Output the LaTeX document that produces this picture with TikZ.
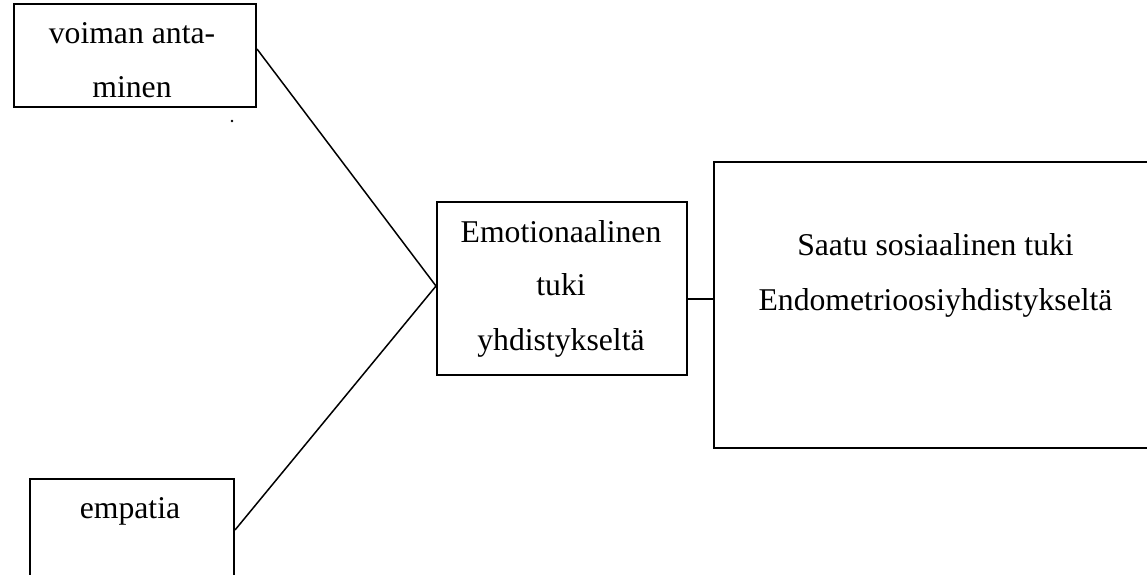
\documentclass[tikz,border=0pt]{standalone}
\usepackage{fontspec}
\setmainfont{Liberation Serif}
\begin{document}
\begin{tikzpicture}[x=1pt,y=-1pt,
  box/.style={draw=black,line width=2pt,rectangle,inner sep=0pt,anchor=north west},
  lbl/.style={anchor=base,inner sep=0pt,font=\fontsize{31.7}{38}\selectfont},
  conn/.style={draw=black,line width=1.5pt}]
\useasboundingbox (0,0) rectangle (1147,574);
\clip (0,0) rectangle (1147,574);
% boxes
\node[box,minimum width=242pt,minimum height=103pt] (b1) at (13,3) {};
\node[box,minimum width=204pt,minimum height=142pt] (b2) at (29,478) {};
\node[box,minimum width=250pt,minimum height=173pt] (c) at (436,201) {};
\node[box,minimum width=445pt,minimum height=286pt] (r) at (713,161) {};
% texts
\node[lbl] (t1a) at (132,43) {voiman anta-};
\node[lbl] (t1b) at (132,97) {minen};
\node[lbl] (t2) at (130,518) {empatia};
\node[lbl] (tc1) at (561,242) {Emotionaalinen};
\node[lbl] (tc2) at (561,295) {tuki};
\node[lbl] (tc3) at (561,350) {yhdistykseltä};
\node[lbl] (tr1) at (935.5,255) {Saatu sosiaalinen tuki};
\node[lbl] (tr2) at (935.5,310) {Endometrioosiyhdistykseltä};
% dot
\fill (232,121) circle (1.4pt);
% connectors
\coordinate (cw) at ([yshift=2.5pt]c.west);
\draw[conn] ([yshift=6.5pt]b1.east) -- (cw);
\draw[conn] ([yshift=20pt]b2.east) -- (cw);
\coordinate (ce) at ([yshift=-10.5pt]c.east);
\draw[conn] (ce) -- (ce -| r.west);
\end{tikzpicture}
\end{document}
